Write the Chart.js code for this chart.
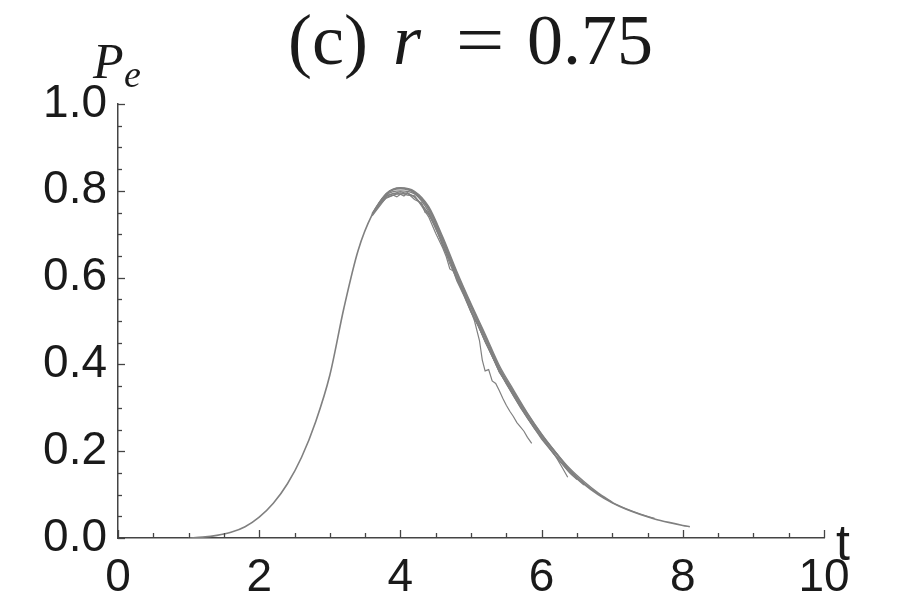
<!DOCTYPE html>
<html>
<head>
<meta charset="utf-8">
<script src="https://cdn.jsdelivr.net/npm/chart.js@4/dist/chart.umd.min.js"></script>
<style>
  html, body { margin: 0; padding: 0; background: #ffffff; }
  #wrap { width: 910px; height: 605px; position: relative; }
</style>
</head>
<body>
<div id="wrap"><canvas id="c" width="910" height="605"></canvas></div>
<script>
// ---- data ----
const tMain  = [1.0,1.2,1.4,1.6,1.8,2.0,2.2,2.4,2.6,2.8,3.0,3.2,3.4,3.6,3.8,4.0,4.2,4.4,4.6,4.8,5.0,5.2,5.4,5.6,5.8,6.0,6.2,6.4,6.6,6.8,7.0,7.2,7.4,7.6,7.8,8.0,8.1];
const peMain = [0.000,0.002,0.006,0.013,0.026,0.048,0.080,0.125,0.186,0.268,0.375,0.530,0.662,0.745,0.792,0.805,0.795,0.758,0.686,0.605,0.532,0.462,0.390,0.335,0.283,0.236,0.195,0.155,0.124,0.100,0.081,0.066,0.054,0.044,0.036,0.029,0.026];

const tRunA  = [3.6,3.7,3.8,3.9,4.0,4.1,4.2,4.3,4.4,4.5,4.6,4.7,4.8,4.9,5.0,5.05,5.12,5.16,5.2,5.25,5.3,5.35,5.4,5.45,5.5,5.55,5.6,5.65,5.7,5.75,5.8,5.86];
const peRunA = [0.745,0.770,0.787,0.794,0.792,0.796,0.785,0.770,0.745,0.718,0.672,0.640,0.598,0.560,0.522,0.500,0.455,0.410,0.385,0.388,0.362,0.356,0.340,0.322,0.306,0.292,0.280,0.266,0.256,0.246,0.232,0.218];

const tRunB  = [3.6,3.8,3.9,4.0,4.1,4.2,4.3,4.4,4.5,4.6,4.65,4.7,4.75,4.8,4.9,5.0,5.1,5.2,5.3,5.4,5.5,5.6,5.7,5.8,5.9,6.0,6.1,6.2,6.3,6.37];
const peRunB = [0.742,0.785,0.790,0.795,0.790,0.788,0.765,0.740,0.702,0.668,0.648,0.620,0.615,0.592,0.558,0.520,0.490,0.452,0.418,0.385,0.355,0.328,0.300,0.276,0.252,0.232,0.210,0.188,0.160,0.140];

const tRunC  = [3.6,3.8,4.0,4.2,4.4,4.6,4.8,5.0,5.2,5.4,5.6,5.8,6.0,6.2,6.4,6.5];
const peRunC = [0.746,0.790,0.800,0.793,0.752,0.680,0.600,0.525,0.455,0.385,0.330,0.278,0.232,0.190,0.150,0.135];

const tRunD  = [3.6,3.8,4.0,4.2,4.4,4.6,4.8,5.0,5.2,5.4,5.6,5.8,6.0,6.2,6.4,6.6,6.8,7.0];
const peRunD = [0.748,0.794,0.807,0.799,0.764,0.694,0.614,0.540,0.470,0.398,0.342,0.288,0.240,0.198,0.160,0.130,0.104,0.083];

const tRunE  = [3.6,3.7,3.8,3.9,3.95,4.0,4.05,4.1,4.2,4.3,4.35,4.4,4.5,4.6,4.7,4.8,4.9,5.0,5.1,5.2,5.3,5.4,5.5,5.6,5.8,6.0,6.2,6.4,6.6];
const peRunE = [0.744,0.768,0.783,0.790,0.786,0.792,0.788,0.795,0.780,0.772,0.750,0.748,0.712,0.676,0.632,0.596,0.562,0.522,0.492,0.455,0.420,0.384,0.358,0.330,0.278,0.230,0.188,0.150,0.122];

const tRunF  = [3.6,3.8,4.0,4.2,4.4,4.5,4.6,4.7,4.8,4.9,5.0,5.1,5.2,5.3,5.4,5.5,5.6,5.8,6.0,6.2,6.45];
const peRunF = [0.745,0.789,0.798,0.788,0.748,0.715,0.676,0.640,0.596,0.565,0.522,0.490,0.452,0.420,0.382,0.358,0.328,0.276,0.228,0.188,0.145];

const tRunG  = [3.6,3.8,4.0,4.2,4.4,4.6,4.8,5.0,5.2,5.4,5.6,5.8,6.0,6.2,6.4,6.6,6.8,7.0,7.2,7.4,7.6];
const peRunG = [0.746,0.793,0.806,0.797,0.761,0.690,0.610,0.537,0.466,0.394,0.338,0.286,0.239,0.197,0.157,0.127,0.102,0.082,0.067,0.055,0.045];

const xTickLabels = ['0','2','4','6','8','10'];
const yTickLabels = ['0.0','0.2','0.4','0.6','0.8','1.0'];
const titleParts  = ['(c)', 'r', '=', '0.75'];

// ---- helpers ----
const pts = (ts, ys) => ts.map((t, i) => ({ x: t, y: ys[i] }));
const LINE = '#808080';
const AXIS = '#444444';
function noisySet(ts, ys) {
  return { data: pts(ts, ys), borderColor: LINE, borderWidth: 1.2, pointRadius: 0, tension: 0, fill: false };
}
function smoothSet(ts, ys, w) {
  return { data: pts(ts, ys), borderColor: LINE, borderWidth: w, pointRadius: 0, cubicInterpolationMode: 'monotone', fill: false };
}

const decor = {
  id: 'decor',
  afterDraw(chart) {
    const { ctx, scales: { x, y } } = chart;
    ctx.save();
    ctx.strokeStyle = AXIS;
    ctx.lineWidth = 1.3;
    // inward minor/major ticks on x
    for (let k = 0; k <= 20; k++) {
      const v = k * 0.5;
      const px = Math.round(x.getPixelForValue(v)) + 0.5;
      const len = (k % 4 === 0) ? 8 : 5;
      ctx.beginPath(); ctx.moveTo(px, y.bottom); ctx.lineTo(px, y.bottom - len); ctx.stroke();
    }
    // inward ticks on y
    for (let k = 0; k <= 20; k++) {
      const v = k * 0.05;
      const py = Math.round(y.getPixelForValue(v)) + 0.5;
      const len = (k % 4 === 0) ? 7 : 4;
      ctx.beginPath(); ctx.moveTo(x.left, py); ctx.lineTo(x.left + len, py); ctx.stroke();
    }
    ctx.fillStyle = '#1a1a1a';
    ctx.textBaseline = 'alphabetic';
    ctx.textAlign = 'left';
    // axis label t
    ctx.font = '50px "Liberation Sans", Arial, sans-serif';
    ctx.fillText('t', 836, 560);
    // P_e
    ctx.font = 'italic 50px "Liberation Serif", serif';
    ctx.fillText('P', 93, 78);
    ctx.font = 'italic 38px "Liberation Serif", serif';
    ctx.fillText('e', 124, 87);
    // title (c) r = 0.75
    const base = 64;
    ctx.font = '72px "Liberation Serif", serif';
    ctx.fillText(titleParts[0], 288, base);
    ctx.font = 'italic 72px "Liberation Serif", serif';
    ctx.fillText(titleParts[1], 393, base);
    ctx.font = '72px "Liberation Serif", serif';
    ctx.save();
    ctx.translate(457, base);
    ctx.scale(1.2, 1);
    ctx.fillText(titleParts[2], -1, 0);
    ctx.restore();
    ctx.fillText(titleParts[3], 527, base);
    ctx.restore();
  }
};

new Chart(document.getElementById('c'), {
  type: 'line',
  data: {
    datasets: [
      noisySet(tRunA, peRunA),
      noisySet(tRunB, peRunB),
      noisySet(tRunE, peRunE),
      noisySet(tRunF, peRunF),
      smoothSet(tRunC, peRunC, 1.3),
      smoothSet(tRunD, peRunD, 1.3),
      smoothSet(tRunG, peRunG, 1.3),
      smoothSet(tMain, peMain, 1.6)
    ]
  },
  options: {
    responsive: false,
    animation: false,
    devicePixelRatio: 1,
    layout: { padding: { left: 0, top: 104, right: 86, bottom: 0 } },
    plugins: { legend: { display: false }, tooltip: { enabled: false }, title: { display: false } },
    scales: {
      x: {
        type: 'linear', min: 0, max: 10,
        grid: { display: false, drawTicks: false },
        border: { display: true, color: AXIS, width: 1.5 },
        afterFit: (s) => { s.height = 67; },
        ticks: {
          stepSize: 2, padding: 13, color: '#1a1a1a',
          font: { family: '"Liberation Sans", Arial, sans-serif', size: 46 },
          maxRotation: 0, autoSkip: false,
          callback: (v) => xTickLabels[Math.round(v / 2)]
        }
      },
      y: {
        type: 'linear', min: 0, max: 1,
        grid: { display: false, drawTicks: false },
        border: { display: true, color: AXIS, width: 1.5 },
        afterFit: (s) => { s.width = 118; },
        ticks: {
          stepSize: 0.2, padding: 11, color: '#1a1a1a',
          font: { family: '"Liberation Sans", Arial, sans-serif', size: 46 },
          callback: (v) => yTickLabels[Math.round(v * 5)]
        }
      }
    }
  },
  plugins: [decor]
});
</script>
</body>
</html>
